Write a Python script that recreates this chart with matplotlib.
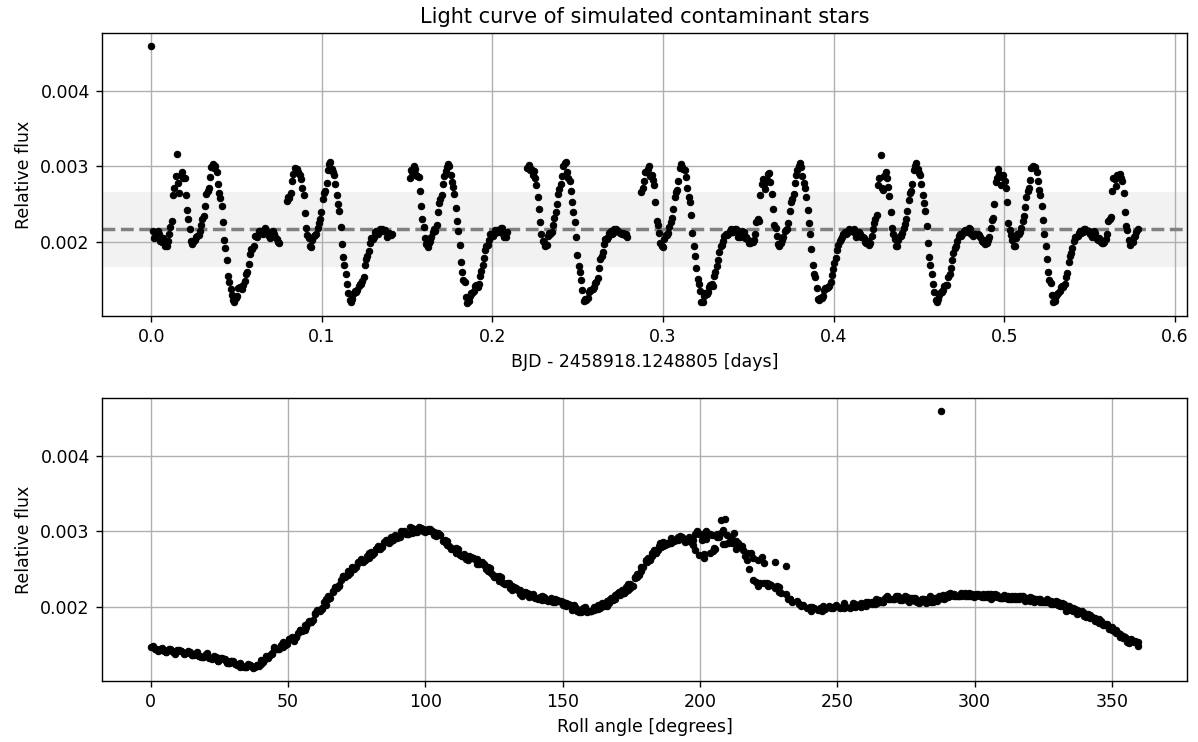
import numpy as np
import matplotlib
matplotlib.use('Agg')
import matplotlib.pyplot as plt
from matplotlib.ticker import MultipleLocator

# observation times (BJD - 2458918.1248805), one entry per exposure
time_days = [
    0.0000, 0.0015, 0.0030, 0.0045, 0.0060, 0.0075, 0.0090, 0.0105, 0.0120, 0.0135, 0.0150, 0.0165,
    0.0180, 0.0195, 0.0210, 0.0225, 0.0240, 0.0255, 0.0270, 0.0285, 0.0300, 0.0315, 0.0330, 0.0345,
    0.0360, 0.0375, 0.0390, 0.0405, 0.0420, 0.0435, 0.0450, 0.0465, 0.0480, 0.0495, 0.0510, 0.0525,
    0.0540, 0.0555, 0.0570, 0.0585, 0.0600, 0.0615, 0.0630, 0.0645, 0.0660, 0.0675,
    0.0690, 0.0705, 0.0720, 0.0735, 0.0750,
    0.0795, 0.0810, 0.0825, 0.0840, 0.0855, 0.0870, 0.0885, 0.0900, 0.0915, 0.0930, 0.0945, 0.0960,
    0.0975, 0.0990, 0.1005, 0.1020, 0.1035, 0.1050, 0.1065, 0.1080, 0.1095, 0.1110, 0.1125, 0.1140,
    0.1155, 0.1170, 0.1185, 0.1200, 0.1215, 0.1230, 0.1245, 0.1260, 0.1275, 0.1290, 0.1305, 0.1320,
    0.1335, 0.1350, 0.1365,
    0.1380, 0.1395, 0.1410,
    0.1515, 0.1530, 0.1545, 0.1560, 0.1575, 0.1590, 0.1605, 0.1620, 0.1635, 0.1650, 0.1665, 0.1680,
    0.1695, 0.1710, 0.1725, 0.1740, 0.1755, 0.1770, 0.1785, 0.1800, 0.1815, 0.1830, 0.1845, 0.1860,
    0.1875, 0.1890, 0.1905, 0.1920, 0.1935, 0.1950, 0.1965, 0.1980, 0.1995, 0.2010, 0.2025, 0.2040,
    0.2055,
    0.2070, 0.2085,
    0.2205, 0.2220, 0.2235, 0.2250, 0.2265, 0.2280, 0.2295, 0.2310, 0.2325, 0.2340, 0.2355, 0.2370,
    0.2385, 0.2400, 0.2415, 0.2430, 0.2445, 0.2460, 0.2475, 0.2490, 0.2505, 0.2520, 0.2535, 0.2550,
    0.2565, 0.2580, 0.2595, 0.2610, 0.2625, 0.2640, 0.2655, 0.2670, 0.2685, 0.2700, 0.2715, 0.2730,
    0.2745,
    0.2760, 0.2775, 0.2790,
    0.2880, 0.2895, 0.2910, 0.2925, 0.2940, 0.2955, 0.2970, 0.2985, 0.3000, 0.3015, 0.3030, 0.3045,
    0.3060, 0.3075, 0.3090, 0.3105, 0.3120, 0.3135, 0.3150, 0.3165, 0.3180, 0.3195, 0.3210, 0.3225,
    0.3240, 0.3255, 0.3270, 0.3285, 0.3300, 0.3315, 0.3330, 0.3345, 0.3360, 0.3375, 0.3390, 0.3405,
    0.3420, 0.3435,
    0.3450, 0.3465, 0.3480, 0.3495, 0.3510, 0.3525, 0.3540, 0.3555, 0.3570, 0.3585, 0.3600, 0.3615,
    0.3630, 0.3645, 0.3660, 0.3675, 0.3690, 0.3705, 0.3720, 0.3735, 0.3750, 0.3765, 0.3780, 0.3795,
    0.3810, 0.3825, 0.3840, 0.3855, 0.3870, 0.3885, 0.3900, 0.3915, 0.3930, 0.3945, 0.3960, 0.3975,
    0.3990, 0.4005, 0.4020, 0.4035, 0.4050, 0.4065, 0.4080, 0.4095, 0.4110, 0.4125,
    0.4140, 0.4155, 0.4170, 0.4185, 0.4200, 0.4215, 0.4230, 0.4245, 0.4260, 0.4275, 0.4290, 0.4305,
    0.4320, 0.4335, 0.4350, 0.4365, 0.4380, 0.4395, 0.4410, 0.4425, 0.4440, 0.4455, 0.4470, 0.4485,
    0.4500, 0.4515, 0.4530, 0.4545, 0.4560, 0.4575, 0.4590, 0.4605, 0.4620, 0.4635, 0.4650, 0.4665,
    0.4680, 0.4695, 0.4710, 0.4725, 0.4740, 0.4755, 0.4770, 0.4785, 0.4800, 0.4815,
    0.4830, 0.4845, 0.4860, 0.4875, 0.4890, 0.4905, 0.4920, 0.4935, 0.4950, 0.4965, 0.4980, 0.4995,
    0.5010, 0.5025, 0.5040, 0.5055, 0.5070, 0.5085, 0.5100, 0.5115, 0.5130, 0.5145, 0.5160, 0.5175,
    0.5190, 0.5205, 0.5220, 0.5235, 0.5250, 0.5265, 0.5280, 0.5295, 0.5310, 0.5325, 0.5340, 0.5355,
    0.5370, 0.5385, 0.5400, 0.5415, 0.5430, 0.5445, 0.5460, 0.5475, 0.5490, 0.5505,
    0.5520, 0.5535, 0.5550, 0.5565, 0.5580, 0.5595, 0.5610, 0.5625, 0.5640, 0.5655, 0.5670, 0.5685,
    0.5700, 0.5715, 0.5730, 0.5745, 0.5760, 0.5775,
    # interleaved exposures
    0.00075, 0.00225, 0.00375, 0.00525, 0.00675, 0.00825, 0.00975, 0.01125, 0.01275, 0.01425,
    0.01575, 0.01725, 0.01875, 0.02025, 0.02175, 0.02325, 0.02475, 0.02625, 0.02775, 0.02925,
    0.03075, 0.03225, 0.03375, 0.03525, 0.03675, 0.03825, 0.03975, 0.04125, 0.04275, 0.04425,
    0.04575, 0.04725, 0.04875, 0.05025, 0.05175, 0.05325, 0.05475, 0.05625, 0.05775, 0.05925,
    0.06075, 0.06225, 0.06375, 0.06525, 0.06675, 0.06825,
    0.06975, 0.07125, 0.07275, 0.07425,
    0.08025, 0.08175, 0.08325, 0.08475, 0.08625, 0.08775, 0.08925, 0.09075, 0.09225, 0.09375,
    0.09525, 0.09675, 0.09825, 0.09975, 0.10125, 0.10275, 0.10425, 0.10575, 0.10725, 0.10875,
    0.11025, 0.11175, 0.11325, 0.11475, 0.11625, 0.11775, 0.11925, 0.12075, 0.12225, 0.12375,
    0.12525, 0.12675, 0.12825, 0.12975, 0.13125, 0.13275, 0.13425, 0.13575, 0.13725,
    0.13875, 0.14025,
    0.15225, 0.15375, 0.15525, 0.15675, 0.15825, 0.15975, 0.16125, 0.16275, 0.16425, 0.16575,
    0.16725, 0.16875, 0.17025, 0.17175, 0.17325, 0.17475, 0.17625, 0.17775, 0.17925, 0.18075,
    0.18225, 0.18375, 0.18525, 0.18675, 0.18825, 0.18975, 0.19125, 0.19275, 0.19425, 0.19575,
    0.19725, 0.19875, 0.20025, 0.20175, 0.20325, 0.20475, 0.20625,
    0.20775,
    0.22125, 0.22275, 0.22425, 0.22575, 0.22725, 0.22875, 0.23025, 0.23175, 0.23325, 0.23475,
    0.23625, 0.23775, 0.23925, 0.24075, 0.24225, 0.24375, 0.24525, 0.24675, 0.24825, 0.24975,
    0.25125, 0.25275, 0.25425, 0.25575, 0.25725, 0.25875, 0.26025, 0.26175, 0.26325, 0.26475,
    0.26625, 0.26775, 0.26925, 0.27075, 0.27225, 0.27375, 0.27525,
    0.27675, 0.27825,
    0.28725, 0.28875, 0.29025, 0.29175, 0.29325, 0.29475, 0.29625, 0.29775, 0.29925, 0.30075,
    0.30225, 0.30375, 0.30525, 0.30675, 0.30825, 0.30975, 0.31125, 0.31275, 0.31425, 0.31575,
    0.31725, 0.31875, 0.32025, 0.32175, 0.32325, 0.32475, 0.32625, 0.32775, 0.32925, 0.33075,
    0.33225, 0.33375, 0.33525, 0.33675, 0.33825, 0.33975, 0.34125, 0.34275, 0.34425,
    0.34575, 0.34725, 0.34875, 0.35025, 0.35175, 0.35325, 0.35475, 0.35625, 0.35775, 0.35925,
    0.36075, 0.36225, 0.36375, 0.36525, 0.36675, 0.36825, 0.36975, 0.37125, 0.37275, 0.37425,
    0.37575, 0.37725, 0.37875, 0.38025, 0.38175, 0.38325, 0.38475, 0.38625, 0.38775, 0.38925,
    0.39075, 0.39225, 0.39375, 0.39525, 0.39675, 0.39825, 0.39975, 0.40125, 0.40275, 0.40425,
    0.40575, 0.40725, 0.40875, 0.41025, 0.41175, 0.41325,
    0.41475, 0.41625, 0.41775, 0.41925, 0.42075, 0.42225, 0.42375, 0.42525, 0.42675, 0.42825,
    0.42975, 0.43125, 0.43275, 0.43425, 0.43575, 0.43725, 0.43875, 0.44025, 0.44175, 0.44325,
    0.44475, 0.44625, 0.44775, 0.44925, 0.45075, 0.45225, 0.45375, 0.45525, 0.45675, 0.45825,
    0.45975, 0.46125, 0.46275, 0.46425, 0.46575, 0.46725, 0.46875, 0.47025, 0.47175, 0.47325,
    0.47475, 0.47625, 0.47775, 0.47925, 0.48075, 0.48225,
    0.48375, 0.48525, 0.48675, 0.48825, 0.48975, 0.49125, 0.49275, 0.49425, 0.49575, 0.49725,
    0.49875, 0.50025, 0.50175, 0.50325, 0.50475, 0.50625, 0.50775, 0.50925, 0.51075, 0.51225,
    0.51375, 0.51525, 0.51675, 0.51825, 0.51975, 0.52125, 0.52275, 0.52425, 0.52575, 0.52725,
    0.52875, 0.53025, 0.53175, 0.53325, 0.53475, 0.53625, 0.53775, 0.53925, 0.54075, 0.54225,
    0.54375, 0.54525, 0.54675, 0.54825, 0.54975, 0.55125,
    0.55275, 0.55425, 0.55575, 0.55725, 0.55875, 0.56025, 0.56175, 0.56325, 0.56475, 0.56625,
    0.56775, 0.56925, 0.57075, 0.57225, 0.57375, 0.57525, 0.57675, 0.57825,
]

# spacecraft roll angle at each exposure [deg]
roll_deg = [
    287.8, 279.9, 272.1, 264.2, 256.4, 248.5, 240.6, 232.8, 224.9, 217.1, 209.2, 201.3,
    193.5, 185.6, 177.8, 169.9, 162.0, 154.2, 146.3, 138.5, 130.6, 122.7, 114.9, 107.0,
    99.2, 91.3, 83.4, 75.6, 67.7, 59.9, 52.0, 44.1, 36.3, 28.4, 20.6, 12.7,
    4.8, 357.0, 349.1, 341.3, 333.4, 325.5, 317.7, 309.8, 302.0, 294.1,
    286.2, 278.4, 270.5, 262.7, 254.8,
    231.2, 223.4, 215.5, 207.6, 199.8, 191.9, 184.1, 176.2, 168.3, 160.5, 152.6, 144.8,
    136.9, 129.0, 121.2, 113.3, 105.5, 97.6, 89.7, 81.9, 74.0, 66.2, 58.3, 50.4,
    42.6, 34.7, 26.9, 19.0, 11.1, 3.3, 355.4, 347.6, 339.7, 331.8, 324.0, 316.1,
    308.3, 300.4, 292.5,
    284.7, 276.8, 269.0,
    213.9, 206.1, 198.2, 190.4, 182.5, 174.6, 166.8, 158.9, 151.1, 143.2, 135.3, 127.5,
    119.6, 111.8, 103.9, 96.0, 88.2, 80.3, 72.5, 64.6, 56.7, 48.9, 41.0, 33.2,
    25.3, 17.4, 9.6, 1.7, 353.9, 346.0, 338.1, 330.3, 322.4, 314.6, 306.7, 298.8,
    291.0,
    283.1, 275.3,
    212.4, 204.5, 196.7, 188.8, 180.9, 173.1, 165.2, 157.4, 149.5, 141.6, 133.8, 125.9,
    118.1, 110.2, 102.3, 94.5, 86.6, 78.8, 70.9, 63.0, 55.2, 47.3, 39.5, 31.6,
    23.7, 15.9, 8.0, 0.2, 352.3, 344.4, 336.6, 328.7, 320.9, 313.0, 305.1, 297.3,
    289.4,
    281.6, 273.7, 265.8,
    218.7, 210.8, 203.0, 195.1, 187.2, 179.4, 171.5, 163.7, 155.8, 147.9, 140.1, 132.2,
    124.4, 116.5, 108.6, 100.8, 92.9, 85.1, 77.2, 69.3, 61.5, 53.6, 45.8, 37.9,
    30.0, 22.2, 14.3, 6.5, 358.6, 350.7, 342.9, 335.0, 327.2, 319.3, 311.4, 303.6,
    295.7, 287.9,
    280.0, 272.1, 264.3, 256.4, 248.6, 240.7, 232.8, 225.0, 217.1, 209.3, 201.4, 193.5,
    185.7, 177.8, 170.0, 162.1, 154.2, 146.4, 138.5, 130.7, 122.8, 114.9, 107.1, 99.2,
    91.4, 83.5, 75.6, 67.8, 59.9, 52.1, 44.2, 36.3, 28.5, 20.6, 12.8, 4.9,
    357.0, 349.2, 341.3, 333.5, 325.6, 317.7, 309.9, 302.0, 294.2, 286.3,
    278.4, 270.6, 262.7, 254.9, 247.0, 239.1, 231.3, 223.4, 215.6, 207.7, 199.8, 192.0,
    184.1, 176.3, 168.4, 160.5, 152.7, 144.8, 137.0, 129.1, 121.2, 113.4, 105.5, 97.7,
    89.8, 81.9, 74.1, 66.2, 58.4, 50.5, 42.6, 34.8, 26.9, 19.1, 11.2, 3.3,
    355.5, 347.6, 339.8, 331.9, 324.0, 316.2, 308.3, 300.5, 292.6, 284.7,
    276.9, 269.0, 261.2, 253.3, 245.4, 237.6, 229.7, 221.9, 214.0, 206.1, 198.3, 190.4,
    182.6, 174.7, 166.8, 159.0, 151.1, 143.3, 135.4, 127.5, 119.7, 111.8, 104.0, 96.1,
    88.2, 80.4, 72.5, 64.7, 56.8, 48.9, 41.1, 33.2, 25.4, 17.5, 9.6, 1.8,
    353.9, 346.1, 338.2, 330.3, 322.5, 314.6, 306.8, 298.9, 291.0, 283.2,
    275.3, 267.5, 259.6, 251.7, 243.9, 236.0, 228.2, 220.3, 212.4, 204.6, 196.7, 188.9,
    181.0, 173.1, 165.3, 157.4, 149.6, 141.7,
    # interleaved exposures
    283.9, 276.0, 268.2, 260.3, 252.5, 244.6, 236.7, 228.9, 221.0, 213.2,
    205.3, 197.4, 189.6, 181.7, 173.9, 166.0, 158.1, 150.3, 142.4, 134.6,
    126.7, 118.8, 111.0, 103.1, 95.3, 87.4, 79.5, 71.7, 63.8, 56.0,
    48.1, 40.2, 32.4, 24.5, 16.7, 8.8, 0.9, 353.1, 345.2, 337.4,
    329.5, 321.6, 313.8, 305.9, 298.1, 290.2,
    282.3, 274.5, 266.6, 258.8,
    227.3, 219.5, 211.6, 203.7, 195.9, 188.0, 180.2, 172.3, 164.4, 156.6,
    148.7, 140.9, 133.0, 125.1, 117.3, 109.4, 101.6, 93.7, 85.8, 78.0,
    70.1, 62.3, 54.4, 46.5, 38.7, 30.8, 23.0, 15.1, 7.2, 359.4,
    351.5, 343.7, 335.8, 327.9, 320.1, 312.2, 304.4, 296.5, 288.6,
    280.8, 272.9,
    210.0, 202.2, 194.3, 186.5, 178.6, 170.7, 162.9, 155.0, 147.2, 139.3,
    131.4, 123.6, 115.7, 107.9, 100.0, 92.1, 84.3, 76.4, 68.6, 60.7,
    52.8, 45.0, 37.1, 29.3, 21.4, 13.5, 5.7, 357.8, 350.0, 342.1,
    334.2, 326.4, 318.5, 310.7, 302.8, 294.9, 287.1,
    279.2,
    208.5, 200.6, 192.8, 184.9, 177.0, 169.2, 161.3, 153.5, 145.6, 137.7,
    129.9, 122.0, 114.2, 106.3, 98.4, 90.6, 82.7, 74.9, 67.0, 59.1,
    51.3, 43.4, 35.6, 27.7, 19.8, 12.0, 4.1, 356.3, 348.4, 340.5,
    332.7, 324.8, 317.0, 309.1, 301.2, 293.4, 285.5,
    277.7, 269.8,
    222.6, 214.8, 206.9, 199.1, 191.2, 183.3, 175.5, 167.6, 159.8, 151.9,
    144.0, 136.2, 128.3, 120.5, 112.6, 104.7, 96.9, 89.0, 81.2, 73.3,
    65.4, 57.6, 49.7, 41.9, 34.0, 26.1, 18.3, 10.4, 2.6, 354.7,
    346.8, 339.0, 331.1, 323.3, 315.4, 307.5, 299.7, 291.8, 284.0,
    276.1, 268.2, 260.4, 252.5, 244.7, 236.8, 228.9, 221.1, 213.2, 205.4,
    197.5, 189.6, 181.8, 173.9, 166.1, 158.2, 150.3, 142.5, 134.6, 126.8,
    118.9, 111.0, 103.2, 95.3, 87.5, 79.6, 71.7, 63.9, 56.0, 48.2,
    40.3, 32.4, 24.6, 16.7, 8.9, 1.0, 353.1, 345.3, 337.4, 329.6,
    321.7, 313.8, 306.0, 298.1, 290.3, 282.4,
    274.5, 266.7, 258.8, 251.0, 243.1, 235.2, 227.4, 219.5, 211.7, 203.8,
    195.9, 188.1, 180.2, 172.4, 164.5, 156.6, 148.8, 140.9, 133.1, 125.2,
    117.3, 109.5, 101.6, 93.8, 85.9, 78.0, 70.2, 62.3, 54.5, 46.6,
    38.7, 30.9, 23.0, 15.2, 7.3, 359.4, 351.6, 343.7, 335.9, 328.0,
    320.1, 312.3, 304.4, 296.6, 288.7, 280.8,
    273.0, 265.1, 257.3, 249.4, 241.5, 233.7, 225.8, 218.0, 210.1, 202.2,
    194.4, 186.5, 178.7, 170.8, 162.9, 155.1, 147.2, 139.4, 131.5, 123.6,
    115.8, 107.9, 100.1, 92.2, 84.3, 76.5, 68.6, 60.8, 52.9, 45.0,
    37.2, 29.3, 21.5, 13.6, 5.7, 357.9, 350.0, 342.2, 334.3, 326.4,
    318.6, 310.7, 302.9, 295.0, 287.1, 279.3,
    271.4, 263.6, 255.7, 247.8, 240.0, 232.1, 224.3, 216.4, 208.5, 200.7,
    192.8, 185.0, 177.1, 169.2, 161.4, 153.5, 145.7, 137.8,
]

# relative flux of the contaminants, in units of 1e-6
flux_ppm = [
    4590, 2050, 2130, 2100, 2000, 2000, 1940, 2110, 2280, 2720, 3160, 2650,
    2920, 2840, 2420, 2170, 1970, 2020, 2080, 2150, 2310, 2470, 2680, 2860,
    3030, 3000, 2770, 2580, 2260, 1920, 1550, 1380, 1230, 1260, 1390, 1390,
    1430, 1570, 1710, 1900, 1950, 2080, 2150, 2120, 2150, 2150,
    2080, 2120, 2100, 2040, 1990,
    2540, 2580, 2800, 2980, 2960, 2890, 2720, 2380, 2090, 1940, 2030, 2090,
    2190, 2300, 2570, 2680, 2950, 3060, 2920, 2770, 2500, 2200, 1800, 1570,
    1330, 1200, 1310, 1340, 1420, 1450, 1540, 1780, 1880, 2050, 2070, 2140,
    2130, 2170, 2140,
    2070, 2120, 2100,
    2840, 2930, 2970, 2870, 2680, 2300, 2050, 1930, 2010, 2130, 2150, 2390,
    2570, 2760, 2940, 3030, 2880, 2730, 2450, 2140, 1730, 1500, 1270, 1220,
    1320, 1350, 1430, 1440, 1620, 1790, 1950, 2030, 2110, 2100, 2160, 2140,
    2180,
    2060, 2130,
    2980, 2950, 2890, 2850, 2600, 2260, 2010, 1940, 2080, 2110, 2220, 2390,
    2640, 2760, 3010, 3060, 2850, 2680, 2390, 2060, 1680, 1500, 1220, 1230,
    1340, 1360, 1410, 1470, 1660, 1810, 1970, 2040, 2120, 2110, 2170, 2140,
    2120,
    2100, 2090, 2060,
    2720, 2920, 2960, 2870, 2820, 2530, 2220, 1990, 1930, 2090, 2120, 2260,
    2440, 2660, 2800, 3030, 2960, 2860, 2600, 2360, 1940, 1660, 1440, 1200,
    1280, 1310, 1400, 1440, 1550, 1680, 1870, 1960, 2080, 2090, 2150, 2130,
    2170, 2150,
    2070, 2140, 2050, 2040, 1980, 2000, 2100, 2300, 2620, 2830, 2700, 2900,
    2790, 2440, 2180, 1970, 1990, 2070, 2160, 2250, 2530, 2640, 2890, 3000,
    2990, 2780, 2600, 2250, 1910, 1570, 1390, 1230, 1260, 1360, 1390, 1420,
    1560, 1720, 1890, 2010, 2060, 2130, 2120, 2160, 2140, 2120,
    2080, 2110, 2070, 2000, 2010, 1980, 2170, 2310, 2750, 3150, 2690, 2930,
    2730, 2390, 2100, 1950, 2020, 2080, 2180, 2300, 2560, 2680, 2950, 3050,
    2910, 2770, 2510, 2210, 1800, 1570, 1340, 1210, 1300, 1340, 1420, 1430,
    1570, 1760, 1920, 2010, 2100, 2100, 2160, 2140, 2170, 2080,
    2110, 2100, 2060, 2000, 1970, 2030, 2180, 2320, 2790, 2960, 2750, 2880,
    2720, 2250, 2090, 1940, 2050, 2100, 2190, 2340, 2600, 2720, 2980, 2990,
    2930, 2690, 2480, 2100, 1770, 1500, 1300, 1220, 1310, 1350, 1420, 1440,
    1590, 1810, 1920, 2060, 2080, 2140, 2130, 2170, 2140, 2100,
    2090, 2120, 2030, 2000, 1990, 2040, 2280, 2330, 2850, 2740, 2860, 2850,
    2650, 2210, 2020, 1980, 2070, 2130,
    # interleaved exposures
    2140, 2060, 2150, 2010, 2050, 1950, 2010, 2200, 2620, 2870,
    2780, 2880, 2850, 2620, 2300, 2010, 2000, 2070, 2090, 2220,
    2340, 2640, 2720, 2990, 2980, 2930, 2650, 2470, 2030, 1760,
    1470, 1300, 1200, 1290, 1410, 1380, 1480, 1600, 1840, 1910,
    2080, 2060, 2150, 2110, 2190, 2130,
    2050, 2140, 2070, 2000,
    2600, 2650, 2900, 2960, 2930, 2830, 2620, 2180, 2050, 1930,
    2080, 2110, 2250, 2400, 2650, 2780, 3030, 2960, 2880, 2620,
    2410, 1970, 1700, 1440, 1230, 1240, 1350, 1360, 1440, 1480,
    1700, 1810, 1990, 2040, 2130, 2110, 2170, 2140, 2160,
    2110, 2090,
    2950, 3010, 2880, 2860, 2480, 2200, 1970, 1990, 2060, 2170,
    2230, 2510, 2620, 2870, 2990, 3000, 2790, 2630, 2280, 1960,
    1600, 1470, 1190, 1290, 1320, 1420, 1400, 1550, 1690, 1890,
    1960, 2100, 2080, 2160, 2130, 2180, 2100,
    2060,
    3020, 2970, 2940, 2750, 2440, 2110, 2000, 1960, 2120, 2130,
    2320, 2500, 2700, 2870, 3050, 2920, 2800, 2530, 2260, 1830,
    1600, 1360, 1240, 1260, 1370, 1380, 1460, 1520, 1780, 1870,
    2040, 2060, 2140, 2120, 2170, 2140, 2120,
    2120, 2100,
    2660, 2810, 2930, 3010, 2880, 2750, 2280, 2120, 1940, 2040,
    2090, 2200, 2320, 2590, 2690, 2980, 2990, 2950, 2710, 2530,
    2120, 1820, 1510, 1350, 1210, 1320, 1340, 1430, 1420, 1600,
    1760, 1940, 2010, 2110, 2100, 2170, 2130, 2170, 2070,
    2080, 2130, 2060, 1990, 2010, 2020, 2260, 2280, 2770, 2760,
    2820, 2910, 2640, 2230, 2080, 1940, 2030, 2140, 2170, 2410,
    2570, 2780, 2950, 3040, 2870, 2710, 2420, 2100, 1700, 1530,
    1240, 1260, 1290, 1390, 1400, 1470, 1640, 1790, 1960, 2040,
    2110, 2110, 2170, 2140, 2170, 2060,
    2130, 2070, 2050, 1990, 1960, 2080, 2250, 2360, 2850, 2720,
    2870, 2850, 2610, 2190, 2040, 1950, 2080, 2120, 2240, 2410,
    2650, 2770, 3010, 2970, 2880, 2620, 2410, 1980, 1700, 1450,
    1230, 1250, 1340, 1370, 1430, 1530, 1660, 1860, 1950, 2080,
    2080, 2150, 2130, 2180, 2110, 2100,
    2100, 2090, 2010, 2020, 1990, 2070, 2290, 2500, 2840, 2900,
    2860, 2800, 2530, 2160, 2020, 1940, 2100, 2130, 2280, 2460,
    2670, 2820, 3000, 2990, 2800, 2620, 2290, 1950, 1600, 1460,
    1200, 1280, 1320, 1410, 1410, 1540, 1740, 1850, 2010, 2060,
    2120, 2120, 2170, 2150, 2140, 2070,
    2140, 2040, 2050, 1980, 2000, 2110, 2310, 2680, 2830, 2890,
    2900, 2810, 2390, 2160, 1960, 2000, 2080, 2170,
]

t = np.array(time_days)
roll = np.array(roll_deg)
flux = np.array(flux_ppm) * 1e-6

mean_flux = np.mean(flux)
std_flux = np.std(flux)

plt.rcParams['font.size'] = 10

fig = plt.figure(figsize=(1198 / 125, 742 / 125), dpi=125)
ax1 = fig.add_axes([0.0851, 0.5741, 0.9057, 0.3810])
ax2 = fig.add_axes([0.0851, 0.0822, 0.9057, 0.3810])

# light curve against time
ax1.axhspan(mean_flux - std_flux, mean_flux + std_flux, color='k', alpha=0.05, lw=0)
ax1.axhline(mean_flux, color='gray', ls='--', lw=2)
ax1.plot(t, flux, 'o', color='k', ms=3.7, mew=0.6)
ax1.set_title('Light curve of simulated contaminant stars')
ax1.set_xlabel('BJD - 2458918.1248805 [days]')
ax1.set_ylabel('Relative flux')
ax1.xaxis.set_major_locator(MultipleLocator(0.1))
ax1.yaxis.set_major_locator(MultipleLocator(0.001))
ax1.grid(True)

# same points against roll angle
ax2.plot(roll, flux, 'o', color='k', ms=3.7, mew=0.6)
ax2.set_xlabel('Roll angle [degrees]')
ax2.set_ylabel('Relative flux')
ax2.xaxis.set_major_locator(MultipleLocator(50))
ax2.yaxis.set_major_locator(MultipleLocator(0.001))
ax2.grid(True)

fig.savefig('out.png', dpi=125)
